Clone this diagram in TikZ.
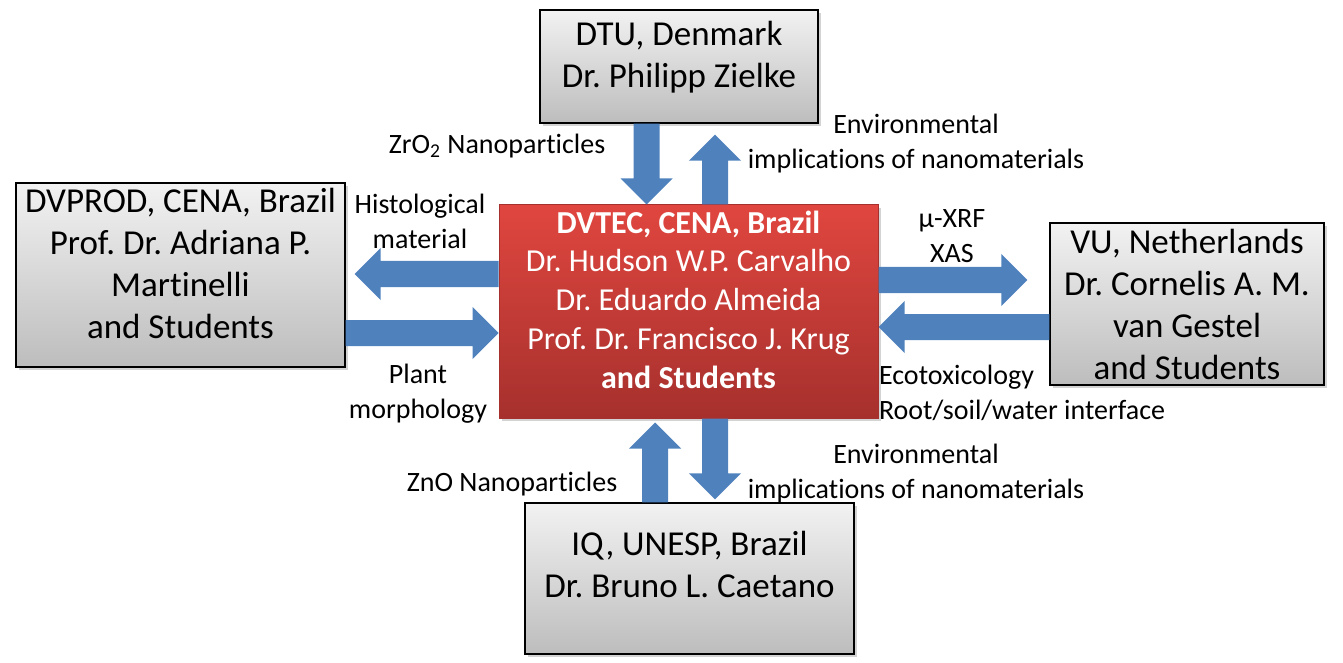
\documentclass[tikz,border=0pt]{standalone}
\usepackage{fontspec}
\setmainfont{Carlito}[Ligatures=NoCommon]
\frenchspacing
\usetikzlibrary{calc,shadows,positioning}
\definecolor{arrowblue}{HTML}{4F81BD}
\definecolor{boxtop}{HTML}{F2F2F2}
\definecolor{boxbot}{HTML}{BDBDBD}
\definecolor{redtop}{HTML}{E0463F}
\definecolor{redbot}{HTML}{A6302D}
% block arrow from #1 to #2 (tip at #2)
\newcommand{\fatarrow}[2]{%
  \coordinate (fa-h) at ($(#2)!13pt!(#1)$);
  \fill[arrowblue] ($(#1)!6.5pt!90:(#2)$) -- ($(fa-h)!6.5pt!90:(#2)$)
    -- ($(fa-h)!13pt!90:(#2)$) -- (#2) -- ($(fa-h)!13pt!-90:(#2)$)
    -- ($(fa-h)!6.5pt!-90:(#2)$) -- ($(#1)!6.5pt!-90:(#2)$) -- cycle;}

\begin{document}
\begin{tikzpicture}[x=0.5pt,y=-0.5pt,
    graybox/.style={draw=black, line width=0.7pt, inner sep=0pt,
      top color=boxtop, bottom color=boxbot,
      drop shadow={shadow xshift=1.5pt,shadow yshift=-1.5pt,opacity=0.35}},
    redbox/.style={draw=redbot, line width=0.5pt, inner sep=0pt,
      top color=redtop, bottom color=redbot,
      drop shadow={shadow xshift=1.5pt,shadow yshift=-1.5pt,opacity=0.35}},
    boxtext/.style={align=center, font=\fontsize{17.5}{21}\selectfont},
    redtext/.style={align=center, text=white, font=\fontsize{16}{19.4}\selectfont},
    lbl/.style={align=center, font=\fontsize{14}{17.5}\selectfont}]
  \useasboundingbox (0,0) rectangle (1343,663);
  % Boxes
  \node[redbox, minimum width=189.5pt, minimum height=106.5pt] (dvtec) at (688.5,311.5) {};
  \node[graybox, minimum width=139pt, minimum height=56.5pt] (dtu) at (679,66.5) {};
  \node[graybox, minimum width=164.5pt, minimum height=92pt] (dvprod) at (180.5,275) {};
  \node[graybox, minimum width=137pt, minimum height=81pt] (vu) at (1187,304) {};
  \node[graybox, minimum width=164.5pt, minimum height=75.5pt] (iq) at (689.5,578.5) {};
  % Box texts
  \node[redtext] (dvtec-t) at ([yshift=6pt]dvtec.center)
    {\textbf{DVTEC, CENA, Brazil}\\Dr. Hudson W.P. Carvalho\\Dr. Eduardo Almeida\\Prof. Dr. Francisco J. Krug\\\textbf{and Students}};
  \node[boxtext] (dtu-t) at ([yshift=4.75pt]dtu.center) {DTU, Denmark\\Dr. Philipp Zielke};
  \node[boxtext] (dvprod-t) at ([yshift=6pt]dvprod.center)
    {DVPROD, CENA, Brazil\\Prof. Dr. Adriana P.\\Martinelli\\and Students};
  \node[boxtext] (vu-t) at (vu.center) {VU, Netherlands\\Dr. Cornelis A. M.\\van Gestel\\and Students};
  \node[boxtext] (iq-t) at ([yshift=7.25pt]iq.center) {IQ, UNESP, Brazil\\Dr. Bruno L. Caetano};
  % Arrow end points
  \coordinate (zrA) at ([xshift=-16.25pt]dtu.south);
  \coordinate (zrB) at (zrA |- dvtec.north);
  \coordinate (enA) at ([xshift=13.25pt]dvtec.north);
  \coordinate (enB) at ([yshift=-5.5pt]enA |- dtu.south);
  \coordinate (hiA) at ([yshift=18.75pt]dvtec.west);
  \coordinate (hiB) at ([xshift=4.5pt]hiA -| dvprod.east);
  \coordinate (plB) at ([yshift=-10.75pt]dvtec.west);
  \coordinate (plA) at (plB -| dvprod.east);
  \coordinate (xrA) at ([yshift=15.75pt]dvtec.east);
  \coordinate (xrB) at ([xshift=-11pt]xrA -| vu.west);
  \coordinate (ecA) at ([yshift=-7.75pt]vu.west |- dvtec.east);
  \coordinate (ecB) at (ecA -| dvtec.east);
  \coordinate (znA) at ([xshift=-16.75pt]iq.north -| dvtec.south);
  \coordinate (znB) at ([yshift=-2pt]znA |- dvtec.south);
  \coordinate (evA) at ([xshift=13.25pt]dvtec.south);
  \coordinate (evB) at ([yshift=1.5pt]evA |- iq.north);
  % Block arrows
  \fatarrow{zrA}{zrB}
  \fatarrow{enA}{enB}
  \fatarrow{hiA}{hiB}
  \fatarrow{plA}{plB}
  \fatarrow{xrA}{xrB}
  \fatarrow{ecA}{ecB}
  \fatarrow{znA}{znB}
  \fatarrow{evA}{evB}
  % Arrow labels
  \node[lbl] (zr-l) at (497,146) {ZrO\textsubscript{2} Nanoparticles};
  \node[lbl] (en-l) at (916,144) {Environmental\\implications of nanomaterials};
  \node[lbl] (hi-l) at (420,221) {Histological\\material};
  \node[lbl] (pl-l) at (418,394) {Plant\\morphology};
  \node[lbl] (xr-l) at (952,236) {µ-XRF\\XAS};
  \node[lbl, align=left, anchor=west] (ec-l) at (872,393) {Ecotoxicology\\Root/soil/water interface};
  \node[lbl] (zn-l) at (512,484) {ZnO Nanoparticles};
  \node[lbl] (ev-l) at (916,474) {Environmental\\implications of nanomaterials};
\end{tikzpicture}
\end{document}
